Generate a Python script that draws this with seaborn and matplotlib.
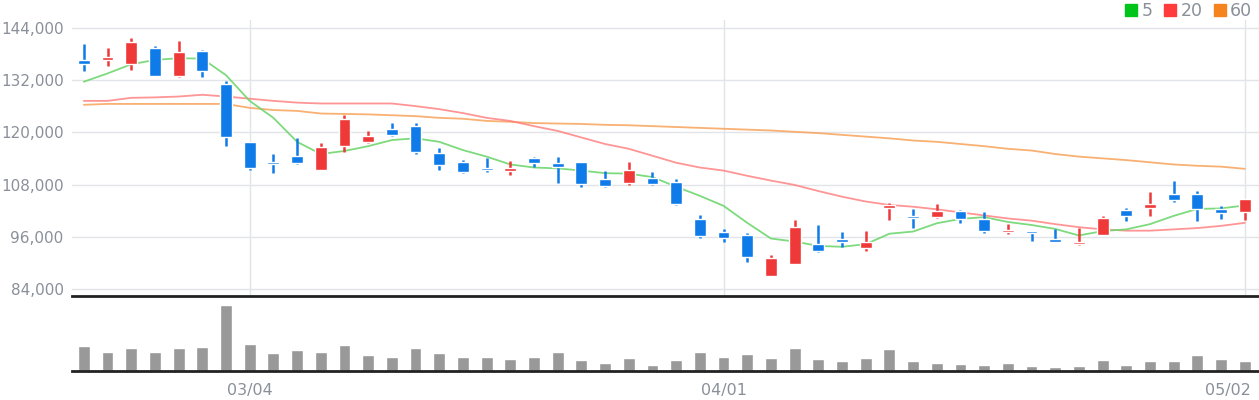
import matplotlib
matplotlib.use("Agg")
import matplotlib.pyplot as plt
from matplotlib.lines import Line2D
import matplotlib.transforms as mtransforms
import numpy as np
import pandas as pd
import seaborn as sns

# daily candles (price in KRW)
opens = [136600, 136700, 135700, 139300, 132900, 138700, 131100, 117700, 113200, 114500,
         111400, 116900, 117800, 120700, 121400, 115200, 113200, 111800, 111100, 114100,
         112900, 113200, 109300, 108300, 109500, 108600, 100100, 97100, 96400, 87000,
         89700, 94300, 95500, 93400, 102600, 100800, 100500, 101900, 100100, 97100,
         97300, 95500, 94300, 96400, 102100, 102600, 105800, 105800, 102400, 101700]
highs = [140300, 139300, 141600, 139800, 140900, 138900, 131800, 117700, 115000, 118600,
         117500, 124000, 120300, 122100, 122100, 116400, 113600, 114100, 113400, 114300,
         114300, 113200, 111100, 113200, 110900, 109300, 101000, 97800, 96900, 91800,
         99800, 98700, 97100, 97300, 103800, 102400, 103500, 102100, 101700, 98900,
         97300, 97800, 98000, 100800, 102600, 106300, 108800, 106500, 103100, 104700]
lows = [134100, 135300, 134400, 132900, 132700, 132700, 116800, 111400, 110700, 112800,
        111400, 115500, 117500, 119100, 115000, 111300, 110600, 110900, 110200, 112000,
        108300, 107400, 107400, 107900, 107900, 103300, 95700, 94800, 90200, 87000,
        89700, 92500, 93600, 92700, 99800, 98000, 100300, 99200, 96900, 96600,
        95000, 94900, 94100, 96400, 99600, 100800, 104000, 99600, 100100, 99800]
closes = [135700, 137300, 140700, 132900, 138400, 134100, 118900, 111900, 112800, 113000,
          116600, 123000, 119100, 119400, 115500, 112500, 110900, 111300, 111800, 112900,
          112000, 108100, 107700, 111300, 108100, 103500, 96200, 95700, 91400, 91100,
          98200, 92700, 94800, 94800, 103300, 100300, 101900, 100100, 97300, 97600,
          96900, 94900, 94800, 100400, 100800, 103500, 104400, 102400, 101500, 104700]
volumes = [760000, 580000, 700000, 580000, 700000, 730000, 1960000, 820000, 550000, 640000,
           580000, 790000, 490000, 430000, 700000, 550000, 430000, 430000, 370000, 430000,
           580000, 340000, 250000, 400000, 190000, 340000, 580000, 430000, 520000, 400000,
           700000, 370000, 310000, 400000, 670000, 310000, 250000, 220000, 190000, 250000,
           160000, 130000, 160000, 340000, 190000, 310000, 310000, 490000, 370000, 310000]

# moving averages as drawn
ma5 = [131600, 133500, 135600, 136600, 137000, 136900, 133100, 127200, 123300, 117800,
       115000, 115700, 116800, 118200, 118600, 117800, 115900, 114400, 112600, 111900,
       111700, 111200, 110600, 110500, 109700, 107500, 105400, 103100, 99200, 95600,
       94900, 93900, 93700, 94300, 96700, 97200, 99100, 100100, 100500, 99400,
       98700, 97800, 96300, 97300, 97700, 98900, 100800, 102400, 102500, 103200]
ma20 = [127200, 127200, 127900, 128000, 128200, 128600, 128200, 127700, 127200, 126800,
        126600, 126600, 126600, 126600, 126000, 125300, 124400, 123300, 122600, 121400,
        120300, 118800, 117300, 116200, 114600, 113000, 111900, 111200, 110000, 108900,
        107900, 106500, 105200, 104100, 103300, 102900, 102300, 101600, 100900, 100200,
        99700, 98900, 98200, 97700, 97400, 97400, 97700, 98000, 98500, 99200]
ma60 = [126300, 126500, 126500, 126500, 126500, 126500, 126500, 125600, 125100, 124900,
        124300, 124200, 124100, 123900, 123700, 123300, 123100, 122600, 122400, 122100,
        122000, 121900, 121700, 121600, 121400, 121200, 121000, 120800, 120600, 120400,
        120100, 119800, 119400, 119000, 118600, 118100, 117800, 117300, 116800, 116200,
        115800, 115000, 114400, 114000, 113600, 113100, 112600, 112300, 112100, 111600]

tick_idx = [7, 27, 49]
tick_labels = ["03/04", "04/01", "05/02"]
price_ticks = [84000, 96000, 108000, 120000, 132000, 144000]

UP = "#ef3838"
DOWN = "#0e7be8"
TXT = "#8a909a"
GRID = "#e1e4e8"

sns.set_style("white")
plt.rcParams["font.family"] = ["DejaVu Sans"]

df = pd.DataFrame({"open": opens, "high": highs, "low": lows, "close": closes,
                   "volume": volumes, "ma5": ma5, "ma20": ma20, "ma60": ma60})
df["idx"] = np.arange(len(df))
colors = [UP if c >= o else DOWN for o, c in zip(df["open"], df["close"])]

fig = plt.figure(figsize=(12.59, 4), dpi=100)
ax = fig.add_axes([72 / 1259, 0.26, 1 - 72 / 1259, 0.69])
axv = fig.add_axes([72 / 1259, 0.0725, 1 - 72 / 1259, 0.1875])

# price panel
for t in price_ticks:
    ax.axhline(t, color=GRID, lw=1, zorder=0)
for i in tick_idx:
    ax.axvline(i, color=GRID, lw=1, zorder=0)

sns.lineplot(data=df, x="idx", y="ma60", ax=ax, color="#f7a25a", lw=1.3, alpha=0.85)
sns.lineplot(data=df, x="idx", y="ma20", ax=ax, color="#ff7b7b", lw=1.3, alpha=0.8)
sns.lineplot(data=df, x="idx", y="ma5", ax=ax, color="#6fd66f", lw=1.3, alpha=0.9)

ax.vlines(df["idx"], df["low"], df["high"], colors=colors, lw=1.8, zorder=3)
body_bottom = np.minimum(df["open"], df["close"])
body_height = np.maximum(np.abs(df["close"] - df["open"]), 250)
ax.bar(df["idx"], body_height, bottom=body_bottom, width=0.5, color=colors, zorder=4)

ax.set_xlim(-0.5, 49.6)
ax.set_ylim(82400, 145770)
ax.set_yticks(price_ticks)
ax.set_yticklabels([f"{t:,}" for t in price_ticks], color=TXT, fontsize=11)
ax.tick_params(axis="y", length=0, pad=6)
ax.set_xticks([])
ax.set_xlabel("")
ax.set_ylabel("")
for s in ax.spines.values():
    s.set_visible(False)

# volume panel
axv.bar(df["idx"], df["volume"], width=0.5, color="#999999")
axv.set_xlim(-0.5, 49.6)
axv.set_ylim(0, max(volumes) * 1.143)
axv.set_yticks([])
axv.set_xticks(tick_idx)
axv.set_xticklabels(tick_labels, color=TXT, fontsize=11.5)
axv.tick_params(axis="x", length=5, width=1.5, color="#222222", pad=4)
last = axv.get_xticklabels()[-1]
last.set_ha("right")
last.set_transform(last.get_transform() + mtransforms.ScaledTranslation(6 / 100, 0, fig.dpi_scale_trans))
for name, s in axv.spines.items():
    if name in ("top", "bottom"):
        s.set_color("#222222")
        s.set_linewidth(2)
    else:
        s.set_visible(False)

handles = [Line2D([], [], marker="s", ls="", color=c, markersize=8, label=l)
           for c, l in [("#00c41a", "5"), ("#ff3b3b", "20"), ("#f5841f", "60")]]
leg = fig.legend(handles=handles, loc="upper right", bbox_to_anchor=(1.003, 1.02), ncol=3,
                 frameon=False, fontsize=12.5, handletextpad=0.1, columnspacing=0.5,
                 handlelength=1.0, borderaxespad=0.2)
for t in leg.get_texts():
    t.set_color(TXT)

fig.savefig("out.png", dpi=100)
